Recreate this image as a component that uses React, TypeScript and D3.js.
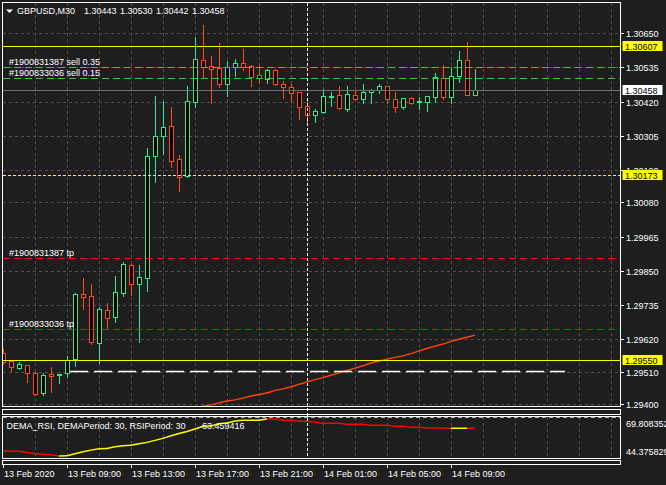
import React from 'react';
import * as d3 from 'd3';

// GBPUSD M30 bars (bar 0 = 13 Feb 05:00)
const opens = [
  1.29573, 1.29545, 1.29521, 1.29531, 1.29505, 1.29437, 1.29501, 1.29499, 1.29505, 1.29553,
  1.29772, 1.29765, 1.29608, 1.29718, 1.29695, 1.29776, 1.29869, 1.29804, 1.29827, 1.30238,
  1.30305, 1.30337, 1.30226, 1.30170, 1.30420, 1.30559, 1.30540, 1.30532, 1.30478, 1.30535,
  1.30549, 1.30539, 1.30508, 1.30497, 1.30525, 1.30478, 1.30468, 1.30451, 1.30404, 1.30376,
  1.30386, 1.30437, 1.30441, 1.30396, 1.30441, 1.30428, 1.30451, 1.30458, 1.30471, 1.30428,
  1.30401, 1.30431, 1.30420, 1.30418, 1.30436, 1.30498, 1.30436, 1.30505, 1.30559, 1.30443,
];
const highs = [
  1.29586, 1.29549, 1.29543, 1.29533, 1.29506, 1.29505, 1.29527, 1.29502, 1.29563, 1.29775,
  1.29827, 1.29805, 1.29729, 1.29740, 1.29832, 1.29878, 1.29873, 1.29869, 1.30263, 1.30439,
  1.30422, 1.30402, 1.30240, 1.30472, 1.30639, 1.30678, 1.30574, 1.30616, 1.30557, 1.30563,
  1.30597, 1.30543, 1.30540, 1.30529, 1.30529, 1.30489, 1.30479, 1.30452, 1.30429, 1.30395,
  1.30462, 1.30453, 1.30472, 1.30472, 1.30456, 1.30479, 1.30462, 1.30479, 1.30472, 1.30453,
  1.30432, 1.30434, 1.30434, 1.30439, 1.30517, 1.30543, 1.30537, 1.30590, 1.30621, 1.30530,
];
const lows = [
  1.29536, 1.29513, 1.29519, 1.29476, 1.29430, 1.29431, 1.29443, 1.29473, 1.29491, 1.29529,
  1.29721, 1.29603, 1.29538, 1.29653, 1.29678, 1.29765, 1.29768, 1.29611, 1.29783, 1.30150,
  1.30243, 1.30201, 1.30120, 1.30167, 1.30403, 1.30504, 1.30416, 1.30470, 1.30439, 1.30507,
  1.30526, 1.30473, 1.30484, 1.30484, 1.30476, 1.30433, 1.30420, 1.30362, 1.30341, 1.30352,
  1.30382, 1.30405, 1.30395, 1.30389, 1.30425, 1.30414, 1.30416, 1.30448, 1.30416, 1.30386,
  1.30396, 1.30413, 1.30395, 1.30389, 1.30420, 1.30429, 1.30414, 1.30487, 1.30441, 1.30442,
];
const closes = [
  1.29543, 1.29525, 1.29536, 1.29505, 1.29435, 1.29499, 1.29496, 1.29501, 1.29549, 1.29772,
  1.29763, 1.29611, 1.29721, 1.29692, 1.29777, 1.29873, 1.29804, 1.29828, 1.30236, 1.30303,
  1.30333, 1.30221, 1.30167, 1.30421, 1.30562, 1.30537, 1.30531, 1.30478, 1.30535, 1.30549,
  1.30537, 1.30504, 1.30498, 1.30525, 1.30478, 1.30470, 1.30448, 1.30401, 1.30376, 1.30388,
  1.30438, 1.30438, 1.30399, 1.30445, 1.30430, 1.30451, 1.30459, 1.30471, 1.30428, 1.30403,
  1.30431, 1.30414, 1.30421, 1.30438, 1.30502, 1.30436, 1.30505, 1.30559, 1.30441, 1.30458,
];

// orange moving average in the main window, starts at bar 24
const maStart = 24;
const maValues = [
  1.29388, 1.29394, 1.29398, 1.29405, 1.29411, 1.29415, 1.29421, 1.29428, 1.29433, 1.29438,
  1.29447, 1.29452, 1.29459, 1.29467, 1.29475, 1.29483, 1.29490, 1.29498, 1.29506, 1.29514,
  1.29522, 1.29530, 1.29539, 1.29546, 1.29552, 1.29558, 1.29563, 1.29571, 1.29580, 1.29588,
  1.29596, 1.29603, 1.29612, 1.29619, 1.29626, 1.29633,
];

// DEMA_RSI sub window
const rsiValues = [
  47.73, 47.70, 47.59, 46.77, 45.88, 45.54, 45.20, 44.376, 44.52, 45.88,
  47.25, 48.41, 49.30, 49.50, 50.67, 51.35, 51.69, 52.72, 53.74, 55.11,
  56.48, 58.32, 59.90, 61.26, 62.97, 64.82, 65.02, 66.53, 67.07, 68.44,
  68.92, 68.95, 69.00, 69.808, 69.80, 68.93, 68.90, 68.24, 68.20, 67.55,
  66.87, 66.85, 66.82, 66.18, 66.15, 66.12, 65.50, 65.47, 65.44, 64.82,
  64.79, 64.14, 64.11, 63.62, 63.55, 63.48, 63.40, 63.47, 63.52, 63.459416,
];
const rsiMin = 44.375829;
const rsiMax = 69.808352;

const priceTicks = [1.3065, 1.30535, 1.3042, 1.30305, 1.3019, 1.3008, 1.29965, 1.2985, 1.29735, 1.2962, 1.2951, 1.294];
const timeLabels = ['13 Feb 2020', '13 Feb 09:00', '13 Feb 13:00', '13 Feb 17:00', '13 Feb 21:00', '14 Feb 01:00', '14 Feb 05:00', '14 Feb 09:00'];
const timeLabelBars = [0, 8, 16, 24, 32, 40, 48, 56];

const orderLabels = ['#1900831387 sell 0.35', '#1900833036 sell 0.15', '#1900831387 tp', '#1900833036 tp'];
const orderPrices = [1.30538, 1.30498, 1.29892, 1.29653];
const orderColors = ['#32cd32', '#32cd32', '#ff0000', '#ff0000'];

const levelPrices = [1.30607, 1.30173, 1.2955];
const levelDashes = ['', '3 2', ''];
const bidPrice = 1.30458;
const trendStart = 8.4;
const trendEnd = 70.25;
const trendPrice = 1.29511;
const vlineBar = 38;

const header = ['GBPUSD,M30', '1.30443', '1.30530', '1.30442', '1.30458'];

const BG = '#1e1e1e';
const GRID = '#505050';
const BULL = '#2fe88f';
const BEAR = '#ff4a14';
const FONT = "'Liberation Sans', Arial, sans-serif";

export default function App() {
  const x = d3.scaleLinear().domain([0, 59]).range([3, 475]);
  const y = d3.scaleLinear().domain([1.294, 1.3065]).range([404.3, 33.3]);
  const ry = d3.scaleLinear().domain([rsiMin, rsiMax]).range([456, 419]);
  const px = (v: number) => Math.round(v) + 0.5;

  const frame = { l: 2.5, r: 620.5, t: 2.5, b: 406.5 };
  const ind = { t: 416.5, b: 458.5 };
  const gridBars = d3.range(4, 77, 4);

  const maLine = d3.line<number>()
    .x((_, i) => x(maStart + i))
    .y(d => y(d));

  const fmt = d3.format('.5f');

  return (
    <div style={{ position: 'fixed', left: 0, top: 0 }}>
      <svg width={666} height={485} style={{ display: 'block', background: BG }} fontFamily={FONT} fontSize={9}>
        <defs>
          <clipPath id="mainClip">
            <rect x={frame.l} y={frame.t} width={frame.r - frame.l} height={frame.b - frame.t} />
          </clipPath>
          <clipPath id="indClip">
            <rect x={frame.l} y={ind.t} width={frame.r - frame.l} height={ind.b - ind.t} />
          </clipPath>
        </defs>
        <rect x={0} y={0} width={666} height={485} fill={BG} />

        {/* grid */}
        <g stroke={GRID} strokeDasharray="3 3" shapeRendering="crispEdges">
          {gridBars.map(b => (
            <line key={'v' + b} x1={px(x(b))} x2={px(x(b))} y1={frame.t} y2={frame.b} />
          ))}
          {gridBars.map(b => (
            <line key={'vi' + b} x1={px(x(b))} x2={px(x(b))} y1={ind.t} y2={ind.b} />
          ))}
          {priceTicks.map(p => (
            <line key={'h' + p} x1={frame.l} x2={frame.r} y1={px(y(p))} y2={px(y(p))} />
          ))}
        </g>
        <line x1={frame.l} x2={frame.r} y1={ind.t + 1} y2={ind.t + 1} stroke="#b0b0b0" strokeDasharray="4 3" shapeRendering="crispEdges" />

        <g clipPath="url(#mainClip)">
          {/* candles */}
          {closes.map((c, k) => {
            const o = opens[k];
            const bull = c >= o;
            const col = bull ? BULL : BEAR;
            const xc = Math.round(x(k));
            const top = Math.round(y(Math.max(o, c)));
            const bot = Math.round(y(Math.min(o, c)));
            return (
              <g key={k} stroke={col} shapeRendering="crispEdges">
                <line x1={xc + 0.5} x2={xc + 0.5} y1={Math.round(y(highs[k]))} y2={Math.round(y(lows[k])) + 1} />
                <path d={`M${xc - 1.5},${top + 0.5}h4v${bot - top}h-4Z`} fill="#000" />
              </g>
            );
          })}

          {/* moving average */}
          <path d={maLine(maValues) || ''} fill="none" stroke="#ff4500" strokeWidth={1.4} />

          {/* horizontal objects */}
          <line x1={frame.l} x2={frame.r} y1={px(y(bidPrice))} y2={px(y(bidPrice))} stroke="#707070" shapeRendering="crispEdges" />
          {levelPrices.map((p, i) => (
            <line key={'lv' + i} x1={frame.l} x2={frame.r} y1={px(y(p))} y2={px(y(p))}
              stroke="#ffff00" strokeDasharray={levelDashes[i] || undefined} shapeRendering="crispEdges" />
          ))}
          {orderPrices.map((p, i) => (
            <line key={'or' + i} x1={frame.l} x2={frame.r} y1={px(y(p))} y2={px(y(p))}
              stroke={orderColors[i]} strokeWidth={1} strokeDasharray="7 4" shapeRendering="crispEdges" />
          ))}
          <line x1={x(trendStart)} x2={x(trendEnd)} y1={px(y(trendPrice))} y2={px(y(trendPrice))}
            stroke="#ffffff" strokeWidth={1.4} strokeDasharray="18 6" />
          {orderLabels.map((t, i) => (
            <text key={'ol' + i} x={9} y={Math.round(y(orderPrices[i])) - 2} fill="#fff">{t}</text>
          ))}
        </g>

        {/* DEMA_RSI */}
        <g clipPath="url(#indClip)">
          {rsiValues.slice(1).map((v, i) => (
            <line key={'r' + i} x1={x(i)} x2={x(i + 1)} y1={ry(rsiValues[i])} y2={ry(v)}
              stroke={v >= rsiValues[i] ? '#ffff00' : '#ff0000'} strokeWidth={1.5} />
          ))}
        </g>
        <text x={6.5} y={429.3} fill="#fff">DEMA_RSI, DEMAPeriod: 30, RSIPeriod: 30</text>
        <text x={202} y={429.3} fill="#fff">{rsiValues[rsiValues.length - 1].toFixed(6)}</text>

        {/* vertical dashed line */}
        <line x1={px(x(vlineBar))} x2={px(x(vlineBar))} y1={frame.t} y2={ind.b} stroke="#fff" strokeDasharray="3 2" shapeRendering="crispEdges" />

        {/* frames */}
        <g fill="none" stroke="#fff" shapeRendering="crispEdges">
          <rect x={frame.l} y={frame.t} width={frame.r - frame.l} height={frame.b - frame.t} />
          <rect x={frame.l} y={409.5} width={frame.r - frame.l} height={5} />
          <rect x={frame.l} y={ind.t} width={frame.r - frame.l} height={ind.b - ind.t} />
          <rect x={frame.l} y={460.5} width={frame.r - frame.l} height={4} />
        </g>

        {/* header */}
        <path d="M6,9.5H13L9.5,13Z" fill="#fff" />
        {header.map((t, i) => (
          <text key={'hd' + i} x={i === 0 ? 17 : 84 + (i - 1) * 36} y={13.5} fill="#fff">{t}</text>
        ))}

        {/* price axis */}
        {priceTicks.map(p => (
          <g key={'pt' + p}>
            <line x1={frame.r} x2={624} y1={px(y(p))} y2={px(y(p))} stroke="#fff" shapeRendering="crispEdges" />
            <text x={626} y={Math.round(y(p)) + 3.5} fill="#fff">{fmt(p)}</text>
          </g>
        ))}
        {[...levelPrices.filter((_, i) => i !== 1), levelPrices[1], bidPrice].map((p, i) => {
          const cy = Math.round(y(p));
          const isBid = p === bidPrice;
          return (
            <g key={'tag' + i}>
              <rect x={622.5} y={cy - 5} width={40} height={10} fill={isBid ? '#ffffff' : '#ffff00'} />
              <text x={625} y={cy + 3.5} fill="#000">{fmt(p)}</text>
            </g>
          );
        })}

        {/* indicator axis */}
        <text x={626} y={426.8} fill="#fff">{rsiMax.toFixed(6)}</text>
        <text x={626} y={454.8} fill="#fff">{rsiMin.toFixed(6)}</text>

        {/* time axis */}
        {timeLabels.map((t, i) => {
          const tx = Math.round(x(timeLabelBars[i]));
          return (
            <g key={'tl' + i}>
              <line x1={tx + 0.5} x2={tx + 0.5} y1={464.5} y2={468} stroke="#fff" shapeRendering="crispEdges" />
              <text x={tx + 1} y={477.3} fill="#fff">{t}</text>
            </g>
          );
        })}
      </svg>
    </div>
  );
}
